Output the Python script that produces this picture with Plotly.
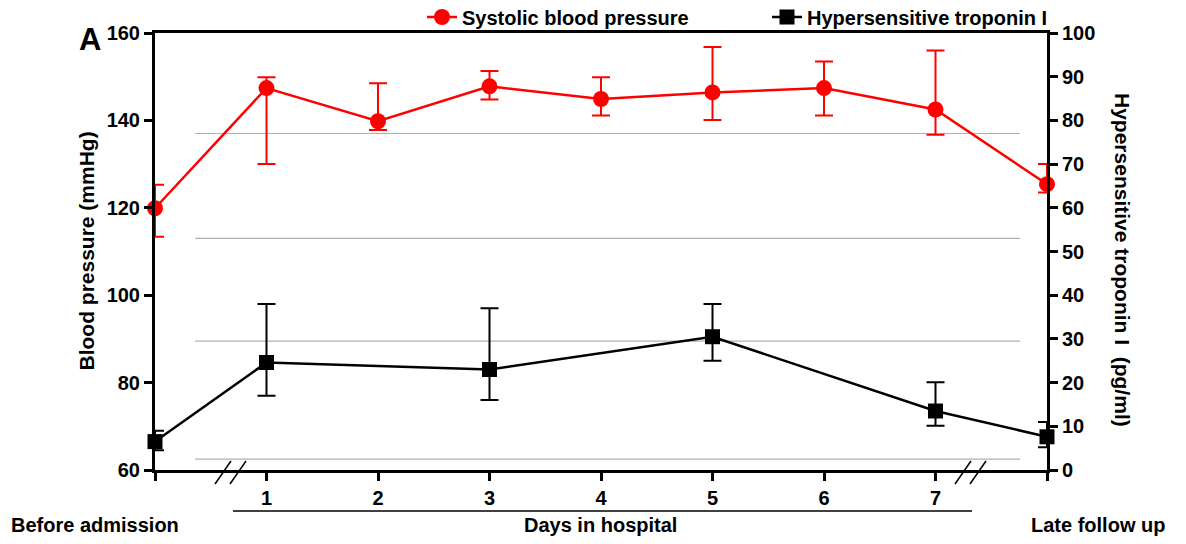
import plotly.graph_objects as go

# ---- data ----
days = [0, 1, 2, 3, 4, 5, 6, 7, 8]
day_ticks = [0, 1, 2, 3, 4, 5, 6, 7, 8]
day_labels = ["", "1", "2", "3", "4", "5", "6", "7", ""]

sbp = [119.9, 147.4, 139.8, 147.8, 144.9, 146.4, 147.4, 142.5, 125.4]
sbp_up = [125.3, 149.9, 148.5, 151.3, 149.9, 156.8, 153.5, 156.0, 130.0]
sbp_lo = [113.4, 130.0, 137.8, 144.8, 141.1, 140.1, 141.1, 136.7, 123.5]

trop_days = [0, 1, 3, 5, 7, 8]
trop = [6.5, 24.6, 23.0, 30.5, 13.5, 7.6]
trop_up = [9.0, 38.0, 37.0, 38.0, 20.1, 11.0]
trop_lo = [4.5, 17.0, 16.0, 25.0, 10.1, 5.2]

ref_lines_bp = [137.0, 113.0, 89.5, 62.5]

FONT = "Liberation Sans, Arial, Helvetica, sans-serif"

fig = go.Figure()

fig.add_trace(go.Scatter(
    x=days, y=sbp, name="Systolic blood pressure", mode="lines+markers",
    line=dict(color="#ff0000", width=2.5),
    marker=dict(symbol="circle", size=16, color="#ff0000"),
    error_y=dict(type="data", symmetric=False,
                 array=[u - v for u, v in zip(sbp_up, sbp)],
                 arrayminus=[v - l for v, l in zip(sbp, sbp_lo)],
                 color="#ff0000", thickness=2, width=9),
    cliponaxis=False, yaxis="y",
))

fig.add_trace(go.Scatter(
    x=trop_days, y=trop, name="Hypersensitive troponin I", mode="lines+markers",
    line=dict(color="#000000", width=2.5),
    marker=dict(symbol="square", size=15, color="#000000"),
    error_y=dict(type="data", symmetric=False,
                 array=[u - v for u, v in zip(trop_up, trop)],
                 arrayminus=[v - l for v, l in zip(trop, trop_lo)],
                 color="#000000", thickness=2, width=9),
    cliponaxis=False, yaxis="y2",
))

shapes = []
for v in ref_lines_bp:
    shapes.append(dict(type="line", xref="x", yref="y", x0=0.36, x1=7.76, y0=v, y1=v,
                       line=dict(color="#b0b0b0", width=1.2), layer="below"))

def px(xp):
    return (xp - 155) / 892.0

def py(yp):
    return (470 - yp) / 437.0

# bracket line under the days
shapes.append(dict(type="line", xref="paper", yref="paper",
                   x0=px(233), x1=px(972), y0=py(511), y1=py(511),
                   line=dict(color="black", width=1.5)))
# axis break marks
for (xa, xb) in [(215, 231), (230, 246), (955, 971), (970, 986)]:
    shapes.append(dict(type="line", xref="paper", yref="paper",
                       x0=px(xa), x1=px(xb), y0=py(484), y1=py(461),
                       line=dict(color="black", width=1.5)))

bold = dict(family=FONT, size=20, color="black", weight="bold")

annotations = [
    dict(text="Before admission", xref="paper", yref="paper", x=px(9), y=py(525),
         xanchor="left", yanchor="middle", showarrow=False, font=dict(bold, size=20)),
    dict(text="Days in hospital", xref="paper", yref="paper", x=px(600), y=py(525),
         xanchor="center", yanchor="middle", showarrow=False, font=dict(bold, size=20)),
    dict(text="Late follow up", xref="paper", yref="paper", x=px(1167), y=py(525),
         xanchor="right", yanchor="middle", showarrow=False, font=dict(bold, size=20)),
    dict(text="A", xref="paper", yref="paper", x=px(90), y=py(40),
         xanchor="center", yanchor="middle", showarrow=False, font=dict(bold, size=31)),
    dict(text="Blood pressure (mmHg)", xref="paper", yref="paper", x=px(86), y=0.5,
         xanchor="center", yanchor="middle", textangle=-90, showarrow=False, font=dict(bold, size=21)),
    dict(text="Hypersensitive troponin I  (pg/ml)", xref="paper", yref="paper", x=px(1123), y=py(260),
         xanchor="center", yanchor="middle", textangle=90, showarrow=False, font=dict(bold, size=21)),
]

axis_common = dict(showgrid=False, zeroline=False, showline=True, linecolor="black", linewidth=3,
                   ticks="outside", ticklen=8, tickwidth=2.5, tickcolor="black",
                   tickfont=dict(family=FONT, size=20, color="black", weight="bold"))

fig.update_layout(
    width=1186, height=544,
    margin=dict(l=155, r=139, t=33, b=74, autoexpand=False),
    paper_bgcolor="white", plot_bgcolor="white",
    font=dict(family=FONT, color="black"),
    xaxis=dict(axis_common, range=[0, 8], tickvals=day_ticks, ticktext=day_labels, mirror=True),
    yaxis=dict(axis_common, range=[60, 160], dtick=20),
    yaxis2=dict(axis_common, range=[0, 100], dtick=10, overlaying="y", side="right"),
    legend=dict(orientation="h", x=px(422), y=py(17), xanchor="left", yanchor="middle",
                font=dict(family=FONT, size=20, color="black", weight="bold"),
                entrywidth=300, entrywidthmode="pixels", bgcolor="rgba(0,0,0,0)",
                itemwidth=30),
    shapes=shapes,
    annotations=annotations,
    showlegend=True,
)

fig.write_html("out.html")
